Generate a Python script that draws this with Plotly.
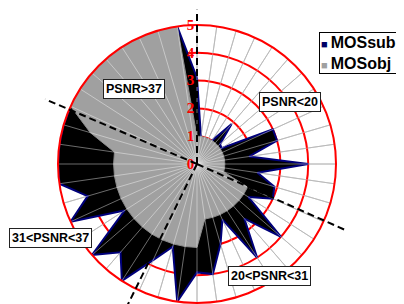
import math
import plotly.graph_objects as go

# ---------------- data ----------------
categories = [str(i) for i in range(1, 45)]
mos_sub = [3.1, 1.0, 0.8, 0.8, 1.0, 1.9, 1.1, 1.05, 3.0, 3.0,
           1.9, 4.0, 2.2, 2.9, 3.0, 2.2, 4.0, 2.6, 4.0, 2.2,
           3.0, 4.0, 3.9, 5.0, 3.1, 3.8, 5.0, 4.2, 5.0, 3.1,
           5.0, 4.1, 5.0, 5.0, 5.0, 5.0, 5.0, 4.6, 4.4, 4.7,
           4.5, 4.8, 4.6, 5.0]
mos_obj = [1, 1, 1, 1, 1, 1, 1, 1, 1, 1,
           1, 1, 1, 1, 2, 2, 2, 2, 2, 2,
           2, 2, 3, 3, 3, 3, 3, 3, 3, 3,
           3, 3, 3, 3, 3, 4, 5, 5, 5, 5,
           5, 5, 5, 5]
radial_ticks = [0, 1, 2, 3, 4, 5]
series_names = ["MOSsub", "MOSobj"]

region_labels = ["PSNR>37", "PSNR<20", "31<PSNR<37", "20<PSNR<31"]
boundary_theta = [0.0, 114.0, 206.2, 293.1]   # degrees, clockwise from north
boundary_len = [5.55, 5.83, 5.8, 5.94]         # in radial units

# ---------------- layout geometry ----------------
OFF = 8                      # page body margin (figure starts 8px into the window)
W, H = 404 - OFF, 304 - OFF
CX, CY, RPX = 197 - OFF, 164 - OFF, 139   # centre and radius (px) of the r=5 circle
RMAX = 5
UNIT = RPX / RMAX
label_pos = [(133.5, 89), (290, 102), (50, 238), (269, 276)]   # px centres (window)

fig = go.Figure()

# invisible cartesian overlay (for the dashed separators)
fig.add_trace(go.Scatter(x=[0], y=[0], mode="markers", marker=dict(opacity=0),
                         hoverinfo="skip", showlegend=False))

theta_closed = categories + [categories[0]]
fig.add_trace(go.Scatterpolar(
    r=mos_sub + [mos_sub[0]], theta=theta_closed, mode="lines", fill="toself",
    fillcolor="#000000", line=dict(color="#00007a", width=2),
    name=series_names[0], showlegend=False))
fig.add_trace(go.Scatterpolar(
    r=mos_obj + [mos_obj[0]], theta=theta_closed, mode="lines", fill="toself",
    fillcolor="#a0a0a0", line=dict(color="#8c8c8c", width=1),
    name=series_names[1], showlegend=False))

# light spokes drawn over the filled areas
sp_r, sp_t = [], []
for c in categories:
    sp_r += [0, RMAX, None]
    sp_t += [c, c, None]
fig.add_trace(go.Scatterpolar(r=sp_r, theta=sp_t, mode="lines",
                              line=dict(color="rgba(255,255,255,0.42)", width=1),
                              hoverinfo="skip", showlegend=False))

# dashed separators
shapes = []
for th, L in zip(boundary_theta, boundary_len):
    a = math.radians(th)
    shapes.append(dict(type="line", xref="x", yref="y", x0=0, y0=0,
                       x1=L * math.sin(a), y1=L * math.cos(a), layer="above",
                       line=dict(color="black", width=2, dash="7px,4px")))

annotations = []
for txt, (px, py) in zip(region_labels, label_pos):
    annotations.append(dict(
        text=txt, x=(px - OFF) / W, y=1 - (py - OFF) / H, xref="paper", yref="paper",
        showarrow=False, xanchor="center", yanchor="middle",
        font=dict(family="Arial, Liberation Sans", size=12.5, color="black", weight="bold"),
        bgcolor="white", bordercolor="#222222", borderwidth=1, borderpad=2))

legend_text = ("<span style='color:#000066;font-size:11px'>■ </span>" + series_names[0] + "<br>"
               "<span style='color:#a0a0a0;font-size:11px'>■ </span>" + series_names[1])
annotations.append(dict(
    text=legend_text, x=(319 - OFF) / W, y=1 - (32 - OFF) / H, xref="paper", yref="paper",
    showarrow=False, xanchor="left", yanchor="top", align="left",
    font=dict(family="Arial, Liberation Sans", size=16, color="black", weight="bold"),
    bgcolor="white", bordercolor="black", borderwidth=1, borderpad=1))

fig.update_layout(
    width=W, height=H, margin=dict(l=0, r=0, t=0, b=0),
    paper_bgcolor="white", plot_bgcolor="white",
    xaxis=dict(visible=False, range=[-CX / UNIT, (W - CX) / UNIT], domain=[0, 1]),
    yaxis=dict(visible=False, range=[-(H - CY) / UNIT, CY / UNIT], domain=[0, 1]),
    polar=dict(
        domain=dict(x=[(CX - RPX) / W, (CX + RPX) / W],
                    y=[(H - CY - RPX) / H, (H - CY + RPX) / H]),
        bgcolor="rgba(0,0,0,0)",
        radialaxis=dict(range=[0, RMAX], tickvals=radial_ticks, ticks="",
                        showgrid=True, gridcolor="#ff0000", gridwidth=2,
                        showline=False, angle=90, side="counterclockwise",
                        tickangle=90, layer="above traces",
                        tickfont=dict(family="Liberation Serif", size=15,
                                      color="#ff0000", weight="bold")),
        angularaxis=dict(type="category", categoryarray=categories,
                         direction="clockwise", rotation=90,
                         showticklabels=False, ticks="",
                         showgrid=True, gridcolor="#8a8a8a", gridwidth=1,
                         showline=True, linecolor="#ff0000", linewidth=2),
    ),
    shapes=shapes, annotations=annotations, showlegend=False,
)

fig.write_html("out.html")
